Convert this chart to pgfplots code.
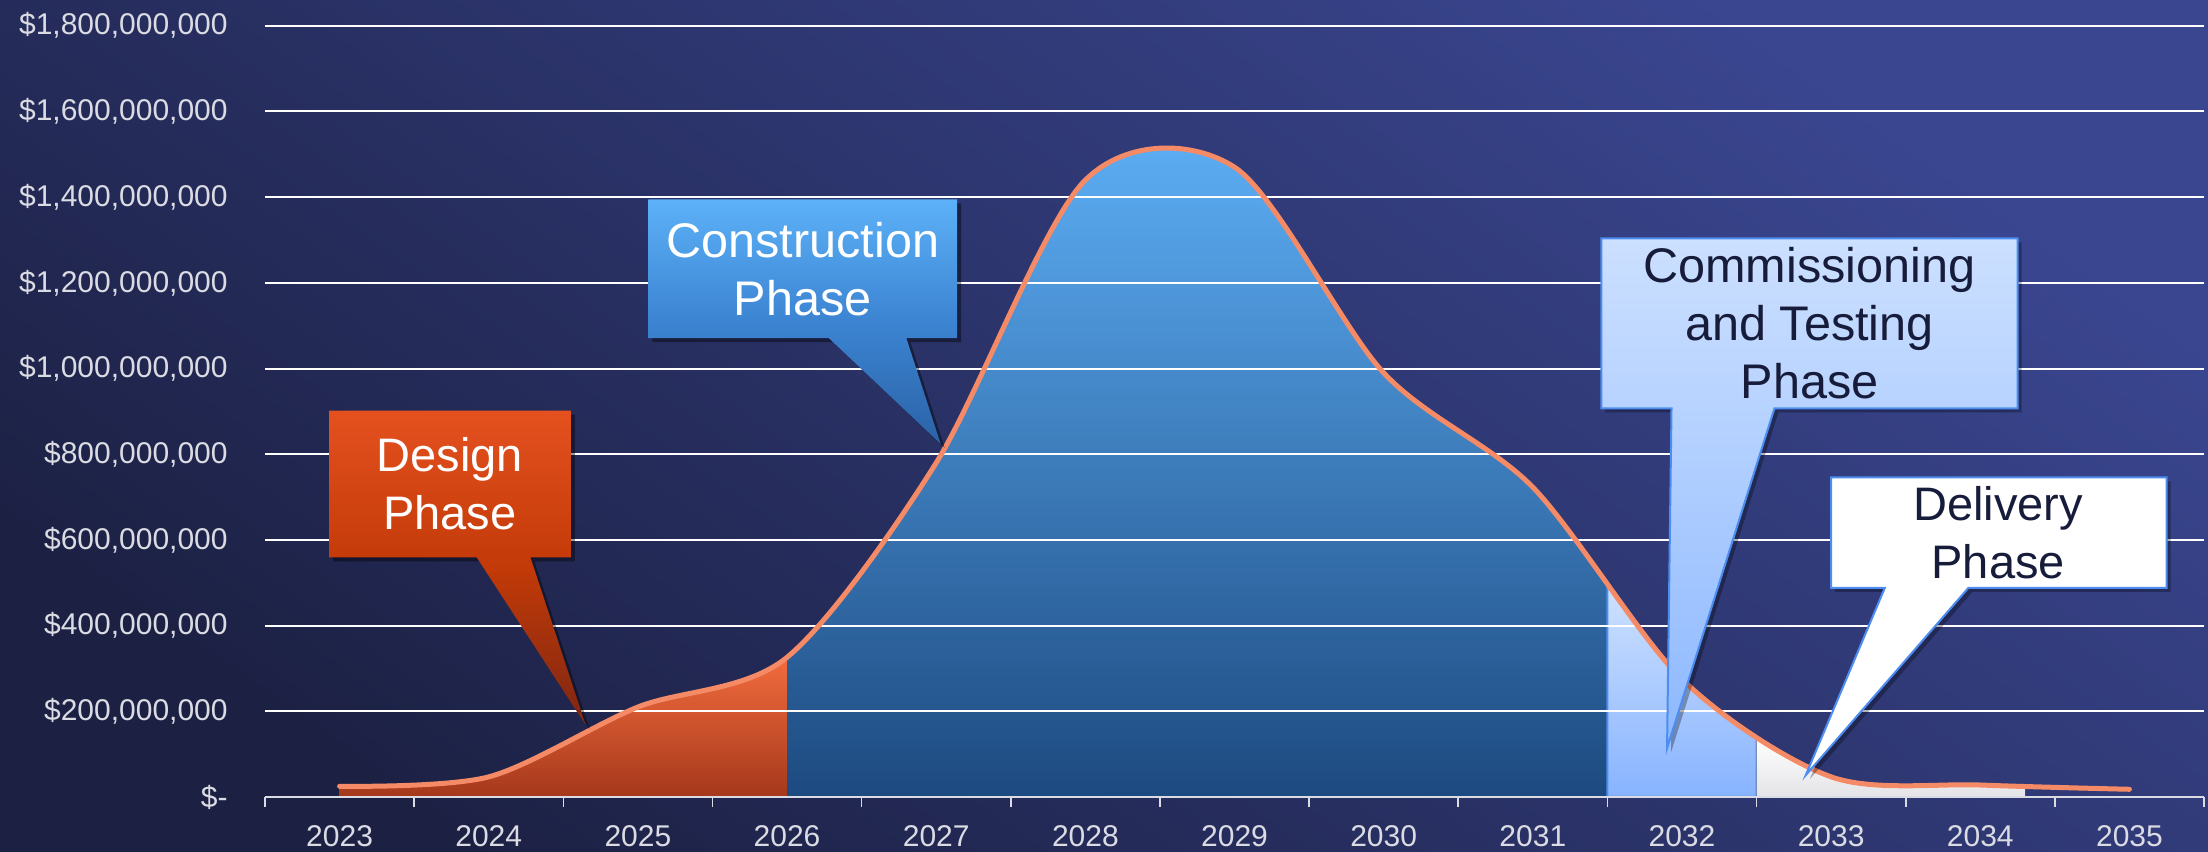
\documentclass[border=0pt]{standalone}
\usepackage{pgfplots}
\pgfplotsset{compat=1.18}
\usepackage{pgfplotstable}
\usepgfplotslibrary{fillbetween}
\usepackage{fontspec}
\setmainfont{Liberation Sans}

\definecolor{bgA}{HTML}{1C2144}
\definecolor{bgB}{HTML}{3A4690}
\definecolor{tickc}{HTML}{DADBE3}
\definecolor{curvec}{HTML}{F58A66}
\definecolor{dsgTop}{HTML}{F26C3E}
\definecolor{dsgBot}{HTML}{A5381B}
\definecolor{conTop}{HTML}{5CADF4}
\definecolor{conBot}{HTML}{1D4A80}
\definecolor{comTop}{HTML}{CFE2FF}
\definecolor{comBot}{HTML}{87B3FF}
\definecolor{comEdge}{HTML}{4D8DF0}
\definecolor{delTop}{HTML}{FFFFFF}
\definecolor{delBot}{HTML}{E4E4E8}
\definecolor{darktext}{HTML}{171C3B}
\definecolor{cDesTop}{HTML}{E4511F}
\definecolor{cDesMid}{HTML}{C23A08}
\definecolor{cDesBot}{HTML}{7E2612}
\definecolor{cConTop}{HTML}{5CB1F8}
\definecolor{cConMid}{HTML}{3C84D2}
\definecolor{cConBot}{HTML}{2A62A6}
\definecolor{cComTop}{HTML}{CCE0FF}
\definecolor{cComBot}{HTML}{8DB8FF}

\pgfdeclarelayer{bgl}
\pgfplotsset{
  layers/mylayers/.define layer set={
    bgl,axis background,axis grid,axis ticks,axis lines,axis tick labels,pre main,main,axis descriptions,axis foreground
  }{},
  set layers=mylayers,
}

\pgfplotstableread{
year value
2023 25000000
2024 47000000
2025 210000000
2026 326000000
2027 780000000
2028 1440000000
2029 1470000000
2030 990000000
2031 723000000
2032 275000000
2033 47000000
2034 28000000
2035 18000000
}\spend

\begin{document}
\begin{tikzpicture}
\begin{axis}[
  at={(132.5pt,27.5pt)}, anchor=south west,
  scale only axis, width=969.5pt, height=385.6pt,
  xmin=2022.5, xmax=2035.5, ymin=0, ymax=1800000000,
  scaled y ticks=false,
  axis x line*=bottom, axis y line*=left,
  y axis line style={draw=none},
  x axis line style={draw=tickc, line width=1pt},
  xtick={2022.5,2023.5,2024.5,2025.5,2026.5,2027.5,2028.5,2029.5,2030.5,2031.5,2032.5,2033.5,2034.5,2035.5},
  xticklabels={2023,2024,2025,2026,2027,2028,2029,2030,2031,2032,2033,2034,2035,{}},
  tick align=outside, major tick length=5pt,
  x tick style={draw=tickc, line width=0.8pt},
  y tick style={draw=none},
  ytick={0,200000000,400000000,600000000,800000000,1000000000,1200000000,1400000000,1600000000,1800000000},
  yticklabels={{\$-\hspace{7pt}},{\$200,000,000},{\$400,000,000},{\$600,000,000},{\$800,000,000},{\$1,000,000,000},{\$1,200,000,000},{\$1,400,000,000},{\$1,600,000,000},{\$1,800,000,000}},
  ymajorgrids, grid style={white, line width=1pt},
  tick label style={font=\fontsize{15}{18}\selectfont, text=tickc},
  xticklabel style={anchor=north, inner sep=0pt, xshift=37.3pt, yshift=-9pt},
  yticklabel style={anchor=east, inner sep=0pt, xshift=-13.5pt},
]
\addplot[name path=curve, smooth, tension=0.5, draw=curvec, line width=2.5pt, line cap=round] table[x=year,y=value]{\spend};
\addplot[name path=base, draw=none] coordinates {(2023,0) (2035,0)};

\addplot[top color=dsgTop, bottom color=dsgBot, draw=none] fill between[of=curve and base, soft clip={domain=2022.6:2026}];
\addplot[top color=conTop, bottom color=conBot, draw=none] fill between[of=curve and base, soft clip={domain=2026:2031.5}];
\addplot[top color=comTop, bottom color=comBot, draw=comEdge, line width=1pt] fill between[of=curve and base, soft clip={domain=2031.5:2032.5}];
\addplot[top color=delTop, bottom color=delBot, draw=none] fill between[of=curve and base, soft clip={domain=2032.5:2034.3}];

% Design callout
\path[fill=black, opacity=0.4, xshift=2pt, yshift=-2pt]
  (2022.93,902000000) -- (2024.55,902000000) -- (2024.55,559000000) -- (2024.28,559000000) -- (2024.65,168000000) -- (2023.92,559000000) -- (2022.93,559000000) -- cycle;
\path[top color=cDesTop, bottom color=cDesBot, middle color=cDesMid]
  (2022.93,902000000) -- (2024.55,902000000) -- (2024.55,559000000) -- (2024.28,559000000) -- (2024.65,168000000) -- (2023.92,559000000) -- (2022.93,559000000) -- cycle;
\node[font=\fontsize{23.5}{29}\selectfont, text=white, align=center] at (2023.74,730500000) {Design\\Phase};

% Construction callout
\path[fill=black, opacity=0.4, xshift=2pt, yshift=-2pt]
  (2025.07,1395000000) -- (2027.14,1395000000) -- (2027.14,1071000000) -- (2026.80,1071000000) -- (2027.03,824000000) -- (2026.28,1071000000) -- (2025.07,1071000000) -- cycle;
\path[top color=cConTop, bottom color=cConBot, middle color=cConMid]
  (2025.07,1395000000) -- (2027.14,1395000000) -- (2027.14,1071000000) -- (2026.80,1071000000) -- (2027.03,824000000) -- (2026.28,1071000000) -- (2025.07,1071000000) -- cycle;
\node[font=\fontsize{24.3}{29}\selectfont, text=white, align=center] at (2026.105,1233000000) {Construction\\Phase};

% Commissioning callout
\path[fill=black, opacity=0.3, xshift=2pt, yshift=-2pt]
  (2031.46,1304000000) -- (2034.25,1304000000) -- (2034.25,907000000) -- (2032.62,907000000) -- (2031.90,114000000) -- (2031.93,907000000) -- (2031.46,907000000) -- cycle;
\path[top color=cComTop, bottom color=cComBot, draw=comEdge, line width=1pt]
  (2031.46,1304000000) -- (2034.25,1304000000) -- (2034.25,907000000) -- (2032.62,907000000) -- (2031.90,114000000) -- (2031.93,907000000) -- (2031.46,907000000) -- cycle;
\node[font=\fontsize{24.3}{29}\selectfont, text=darktext, align=center] at (2032.855,1105500000) {Commissioning\\and Testing\\Phase};

% Delivery callout
\path[fill=black, opacity=0.3, xshift=2pt, yshift=-2pt]
  (2033.0,746000000) -- (2035.25,746000000) -- (2035.25,488000000) -- (2033.92,488000000) -- (2032.83,51000000) -- (2033.36,488000000) -- (2033.0,488000000) -- cycle;
\path[fill=white, draw=comEdge, line width=1pt]
  (2033.0,746000000) -- (2035.25,746000000) -- (2035.25,488000000) -- (2033.92,488000000) -- (2032.83,51000000) -- (2033.36,488000000) -- (2033.0,488000000) -- cycle;
\node[font=\fontsize{23.5}{29}\selectfont, text=darktext, align=center] at (2034.12,617000000) {Delivery\\Phase};
\end{axis}
\begin{pgfonlayer}{bgl}
\shade[top color=bgB, bottom color=bgA, shading angle=-35] (0,0) rectangle (1104pt,426pt);
\end{pgfonlayer}
\pgfresetboundingbox
\path[use as bounding box] (0,0) rectangle (1104pt,426pt);
\end{tikzpicture}
\end{document}
